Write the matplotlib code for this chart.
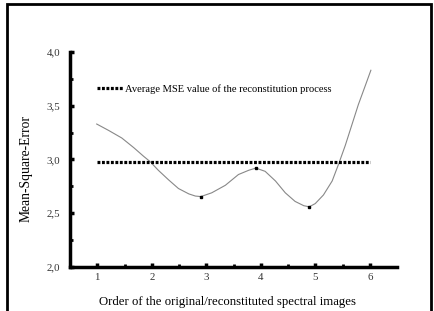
import matplotlib
matplotlib.use("Agg")
import matplotlib.pyplot as plt
from matplotlib.patches import Rectangle

# curve (order, MSE)
curve_x = [0.99, 1.21, 1.45, 1.67, 1.85, 1.97, 2.12, 2.31, 2.49, 2.68, 2.80,
           2.90, 3.10, 3.35, 3.59, 3.78, 3.91, 4.08, 4.27, 4.45, 4.63, 4.79,
           4.89, 5.00, 5.15, 5.31, 5.43, 5.55, 5.67, 5.79, 5.92, 6.02]
curve_y = [3.33, 3.27, 3.20, 3.11, 3.03, 2.98, 2.90, 2.81, 2.73, 2.68, 2.66,
           2.655, 2.69, 2.76, 2.86, 2.90, 2.92, 2.89, 2.80, 2.69, 2.61, 2.57,
           2.56, 2.59, 2.67, 2.80, 2.96, 3.13, 3.32, 3.51, 3.69, 3.83]

# marked points
point_x = [2.90, 3.91, 4.89]
point_y = [2.655, 2.92, 2.56]

avg_x = [1, 6]
avg_mse = 2.98

xticks = [1, 2, 3, 4, 5, 6]
yticks = [2.0, 2.5, 3.0, 3.5, 4.0]
ytick_labels = ["2,0", "2,5", "3,0", "3,5", "4,0"]

plt.rcParams['font.family'] = ['Liberation Serif', 'DejaVu Serif']

fig = plt.figure(figsize=(4.34, 3.11), dpi=100)
ax = fig.add_axes([0.1613, 0.1415, 0.7535, 0.6913])

ax.plot(curve_x, curve_y, color='#888888', lw=0.8)
ax.plot(point_x, point_y, 's', color='black', ms=1.8)
ax.plot(avg_x, [avg_mse, avg_mse], color='black', lw=2.3, ls=(0, (0.9, 0.5)),
        label='Average MSE value of the reconstitution process')

ax.set_xlim(0.5, 6.5)
ax.set_ylim(2.0, 4.0)
ax.set_xticks(xticks)
ax.set_xticks([1.5, 2.5, 3.5, 4.5, 5.5], minor=True)
ax.set_yticks(yticks)
ax.set_yticklabels(ytick_labels)
ax.set_yticks([2.25, 2.75, 3.25, 3.75], minor=True)

for s in ['top', 'right']:
    ax.spines[s].set_visible(False)
for s in ['left', 'bottom']:
    ax.spines[s].set_linewidth(2.5)

ax.tick_params(which='major', direction='in', length=3, width=2.5,
               labelsize=7.8, colors='black', labelcolor='#333333')
ax.tick_params(which='minor', direction='in', length=2, width=2)
ax.tick_params(axis='x', which='major', pad=4)
ax.tick_params(axis='y', which='major', pad=7)

ax.set_xlabel('Order of the original/reconstituted spectral images',
              fontsize=9.2)
ax.set_ylabel('Mean-Square-Error', fontsize=9.8)
ax.xaxis.set_label_coords(0.483, -0.137)
ax.yaxis.set_label_coords(-0.113, 0.46)

ax.legend(loc='upper left', bbox_to_anchor=(0.083, 0.852), frameon=False,
          fontsize=7.6, handlelength=2.45, handletextpad=0.2, borderpad=0,
          borderaxespad=0)

# frame around the whole figure
fig.patches.append(Rectangle((7 / 434, -0.05), 424 / 434, 1.05 - 4 / 311,
                             transform=fig.transFigure, fill=False,
                             lw=2, edgecolor='black'))

fig.savefig('out.png', dpi=100)
